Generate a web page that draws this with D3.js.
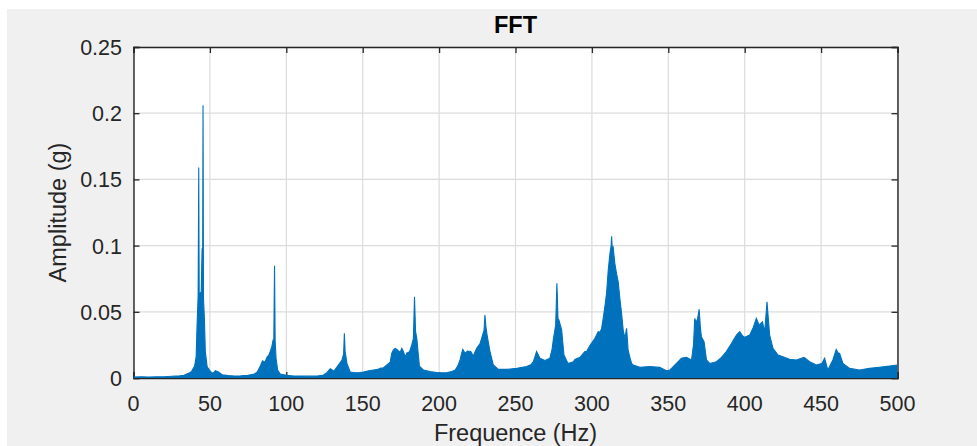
<!DOCTYPE html>
<html><head><meta charset="utf-8">
<script src="https://cdn.jsdelivr.net/npm/d3@7"></script>
<style>html,body{margin:0;padding:0;background:#fff;} svg{display:block;}</style>
</head><body><svg id="c" width="977" height="446"></svg>
<script>
// ---- data ----
const freqs = [0,5,10,15,20,25,30,33,36,38,40,41,41.6,42.3,42.7,43.0,43.6,44.3,44.9,45.2,45.5,45.8,46.4,47.0,48.2,50.3,52,53.6,55.6,58,62,66,70,75,79,81,83,84.5,86,87.5,88.5,89.5,90.6,91.4,91.8,92.3,92.7,93.3,94.3,96,100,105,110,115,120,124,126.5,128.8,130,131,133,134.2,135.5,136.4,137.5,138.0,138.5,139.7,141.8,145,148,150.5,154,157,160,161.4,163.6,165.8,168,169,170,171.2,172.4,173.4,174.5,175.6,176.6,177.8,179,180,181,182.1,183.2,183.9,184.6,185.4,186.2,187.1,189.8,194.1,199.6,205,208,210.5,212.2,213.7,214.6,215.5,217,218.5,220.7,222.4,224.6,226.8,228.5,229.4,230.0,230.7,231.6,233.3,235.5,238.8,244.2,250.8,257.3,260,261.7,263.8,266,269.3,272.5,274,274.7,276.3,277.1,277.8,278.4,280.2,281.7,283.5,284.5,287.8,288.9,292.2,295.4,296.5,298.7,302,304.1,305.2,306.3,307.4,308.5,309.6,310.7,311.8,312.6,312.9,313.3,313.9,315,316.1,317.2,318.3,319.4,320.5,321.6,322.7,323.7,325,326,327,331.4,337.9,344.4,348.8,351,354.2,358.6,361.9,365.2,366.5,367.3,368.3,369.2,370.2,371,371.7,373.4,375,377.1,381.5,384.8,388,391.3,394.6,396.7,398.5,400,403.3,405.4,407.6,409.4,411.6,413.1,414.6,416.3,418.5,421.8,425,429.4,433.8,438.8,442.5,446.9,450.5,452.3,454.4,457.7,459.9,461,462.1,464.3,468.6,475.2,481.7,488.2,494.8,500];
const amps = [0.0008,0.0009,0.0008,0.0009,0.0010,0.0013,0.0016,0.0020,0.0035,0.0050,0.0090,0.0160,0.0400,0.0620,0.159,0.0600,0.0640,0.0650,0.0980,0.0640,0.2060,0.0600,0.0450,0.0200,0.0085,0.0050,0.0035,0.0055,0.0045,0.0025,0.0018,0.0015,0.0016,0.0020,0.0030,0.0045,0.0090,0.0130,0.0120,0.0160,0.0170,0.0200,0.0240,0.0290,0.0260,0.0848,0.0280,0.0150,0.0060,0.0030,0.0020,0.0015,0.0015,0.0014,0.0015,0.0020,0.0040,0.0070,0.0060,0.0050,0.0080,0.0100,0.0120,0.0136,0.0180,0.0337,0.0200,0.0110,0.0045,0.0040,0.0042,0.0045,0.0055,0.0060,0.0065,0.0073,0.0078,0.0098,0.0120,0.0186,0.0210,0.0224,0.0215,0.0205,0.0195,0.0224,0.0200,0.0160,0.0190,0.0190,0.0210,0.0250,0.0300,0.0614,0.0350,0.0300,0.0200,0.0090,0.0060,0.0048,0.0040,0.0040,0.0048,0.0060,0.0090,0.0136,0.0180,0.0216,0.0186,0.0204,0.0200,0.0166,0.0224,0.0260,0.0325,0.0360,0.0476,0.0380,0.0310,0.0200,0.0098,0.0065,0.0065,0.0073,0.0086,0.0100,0.0123,0.0200,0.0149,0.0133,0.0150,0.0220,0.0287,0.0400,0.0715,0.0450,0.0438,0.0363,0.0174,0.0130,0.0110,0.0123,0.0141,0.0156,0.0200,0.0200,0.0245,0.0300,0.0350,0.0345,0.0370,0.0450,0.0540,0.0640,0.0816,0.0940,0.1000,0.1070,0.0980,0.0990,0.0866,0.0790,0.0727,0.0600,0.0490,0.0360,0.0300,0.0375,0.0210,0.0150,0.0110,0.0098,0.0081,0.0086,0.0080,0.0055,0.0060,0.0098,0.0149,0.0156,0.0136,0.0250,0.0450,0.0420,0.0450,0.0519,0.0380,0.0310,0.0274,0.0136,0.0110,0.0123,0.0156,0.0200,0.0260,0.0325,0.0350,0.0320,0.0307,0.0325,0.0375,0.0450,0.0400,0.0425,0.0350,0.0576,0.0325,0.0224,0.0174,0.0160,0.0141,0.0136,0.0156,0.0123,0.0098,0.0110,0.0149,0.0060,0.0136,0.0216,0.0190,0.0186,0.0110,0.0073,0.0060,0.0073,0.0081,0.0090,0.0098];
const xTicks = [0,50,100,150,200,250,300,350,400,450,500];
const xTickLabels = ["0","50","100","150","200","250","300","350","400","450","500"];
const yTicks = [0,0.05,0.1,0.15,0.2,0.25];
const yTickLabels = ["0","0.05","0.1","0.15","0.2","0.25"];
const titleText = "FFT";
const xLabelText = "Frequence (Hz)";
const yLabelText = "Amplitude (g)";

// ---- layout ----
const L = 133.5, R = 897.5, T = 47, B = 378;
const svg = d3.select("#c");
const FONT = "'Liberation Sans', Arial, Helvetica, sans-serif";
const AX = "#262626";

svg.append("rect").attr("x",0).attr("y",0).attr("width",977).attr("height",446).attr("fill","#ffffff");
svg.append("rect").attr("x",7).attr("y",9).attr("width",970).attr("height",437).attr("fill","#f0f0f0");

const x = d3.scaleLinear().domain([0,500]).range([L,R]);
const y = d3.scaleLinear().domain([0,0.25]).range([B,T]);

svg.append("rect").attr("x",L).attr("y",T).attr("width",R-L).attr("height",B-T).attr("fill","#ffffff");

// grid
const g = svg.append("g");
g.selectAll("line.gx").data(xTicks).join("line")
  .attr("x1",d=>x(d)).attr("x2",d=>x(d)).attr("y1",T).attr("y2",B)
  .attr("stroke","#dcdcdc").attr("stroke-width",1.2);
g.selectAll("line.gy").data(yTicks).join("line")
  .attr("x1",L).attr("x2",R).attr("y1",d=>y(d)).attr("y2",d=>y(d))
  .attr("stroke","#dcdcdc").attr("stroke-width",1.2);

// axes (ticks inward, mirrored)
const TL = 6;
const axB = d3.axisBottom(x).tickValues(xTicks).tickSize(-TL).tickFormat("");
const axT = d3.axisTop(x).tickValues(xTicks).tickSize(-TL).tickFormat("");
const axLft = d3.axisLeft(y).tickValues(yTicks).tickSize(-TL).tickFormat("");
const axRt = d3.axisRight(y).tickValues(yTicks).tickSize(-TL).tickFormat("");
function styleAx(sel){
  sel.selectAll("path").attr("stroke",AX).attr("stroke-width",1.4);
  sel.selectAll("line").attr("stroke",AX).attr("stroke-width",1.3);
}
svg.append("g").attr("transform",`translate(0,${B})`).call(axB).call(styleAx);
svg.append("g").attr("transform",`translate(0,${T})`).call(axT).call(styleAx);
svg.append("g").attr("transform",`translate(${L},0)`).call(axLft).call(styleAx);
svg.append("g").attr("transform",`translate(${R},0)`).call(axRt).call(styleAx);

// tick labels
svg.append("g").selectAll("text").data(xTicks).join("text")
  .attr("x",d=>x(d)).attr("y",411).attr("text-anchor","middle")
  .attr("font-family",FONT).attr("font-size",21.5).attr("fill",AX)
  .text((d,i)=>xTickLabels[i]);
svg.append("g").selectAll("text").data(yTicks).join("text")
  .attr("x",122).attr("y",d=>y(d)+8).attr("text-anchor","end")
  .attr("font-family",FONT).attr("font-size",21.5).attr("fill",AX)
  .text((d,i)=>yTickLabels[i]);

// data
const clip = svg.append("clipPath").attr("id","pc");
clip.append("rect").attr("x",L).attr("y",T-2).attr("width",R-L).attr("height",B-T+4);
const pts = freqs.map((f,i)=>[f,amps[i]]);
const dg = svg.append("g").attr("clip-path","url(#pc)");
dg.append("path").datum(pts)
  .attr("d", d3.area().x(d=>x(d[0])).y0(y(0)).y1(d=>y(d[1])))
  .attr("fill","#0072BD");
dg.append("path").datum(pts)
  .attr("d", d3.line().x(d=>x(d[0])).y(d=>y(d[1])))
  .attr("fill","none").attr("stroke","#0072BD").attr("stroke-width",1.1);

// labels
svg.append("text").attr("x",(L+R)/2).attr("y",32.5).attr("text-anchor","middle")
  .attr("font-family",FONT).attr("font-size",23.5).attr("font-weight","bold").attr("fill","#000")
  .text(titleText);
svg.append("text").attr("x",(L+R)/2).attr("y",441).attr("text-anchor","middle")
  .attr("font-family",FONT).attr("font-size",23.5).attr("fill",AX)
  .text(xLabelText);
svg.append("text").attr("transform",`translate(65.5,${(T+B)/2}) rotate(-90)`).attr("text-anchor","middle")
  .attr("font-family",FONT).attr("font-size",23.5).attr("fill",AX)
  .text(yLabelText);
</script>
</body></html>
